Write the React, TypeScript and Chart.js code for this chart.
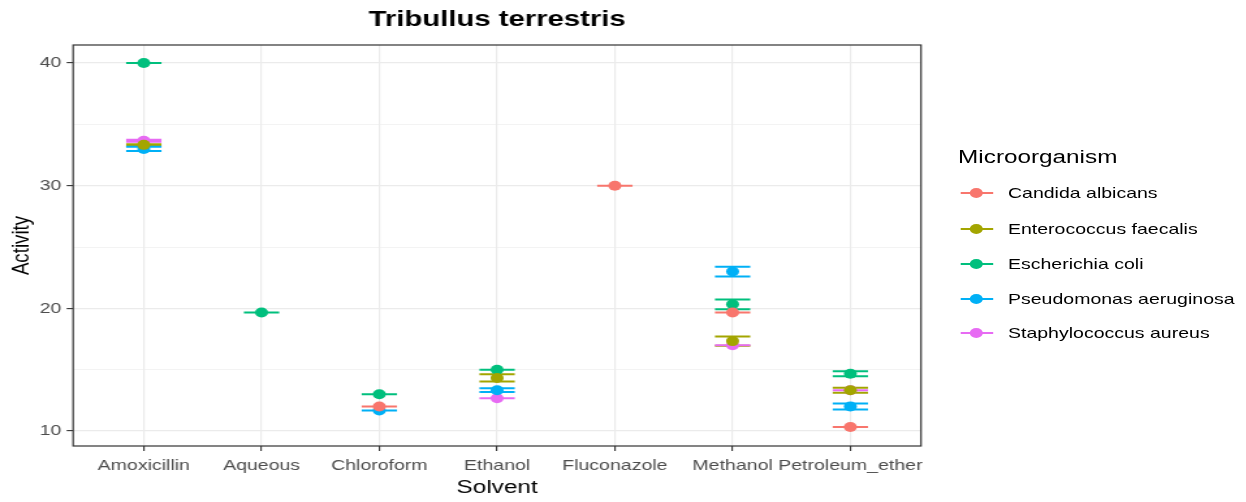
import React, { useEffect, useRef } from 'react';
import { Chart, registerables } from 'chart.js';

Chart.register(...registerables);

// The figure is laid out at a narrower logical width and widened horizontally.
const STRETCH = 1.3;
const FULL_W = 1246;
const FULL_H = 502;
const LOGICAL_W = FULL_W / STRETCH;

const FONT = '"Liberation Sans", Arial, Helvetica, sans-serif';

const categories = ['Amoxicillin', 'Aqueous', 'Chloroform', 'Ethanol', 'Fluconazole', 'Methanol', 'Petroleum_ether'];

const organisms = ['Candida albicans', 'Enterococcus faecalis', 'Escherichia coli', 'Pseudomonas aeruginosa', 'Staphylococcus aureus'];
const organismColors = ['#F8766D', '#A3A500', '#00BF7D', '#00B0F6', '#E76BF3'];

// Mean activity per solvent (null = not tested)
const candidaMean = [null, null, 12.0, null, 30.0, 19.67, 10.33];
const enterococcusMean = [33.33, null, null, 14.33, null, 17.33, 13.33];
const ecoliMean = [40.0, 19.67, 13.0, 15.0, null, 20.33, 14.67];
const pseudomonasMean = [33.0, null, 11.67, 13.33, null, 23.0, 12.0];
const staphMean = [33.67, null, null, 12.67, null, 17.0, 13.33];

// Standard deviation per solvent
const candidaSd = [null, null, 0, null, 0, 0, 0];
const enterococcusSd = [0.05, null, null, 0.3, null, 0.37, 0.2];
const ecoliSd = [0, 0, 0, 0, null, 0.4, 0.2];
const pseudomonasSd = [0.17, null, 0, 0.15, null, 0.4, 0.25];
const staphSd = [0.08, null, null, 0, null, 0, 0];

const yTicks = [10, 20, 30, 40];

const seriesMeans = [candidaMean, enterococcusMean, ecoliMean, pseudomonasMean, staphMean];
const seriesSds = [candidaSd, enterococcusSd, ecoliSd, pseudomonasSd, staphSd];

const CAP_HALF = 0.15; // half width of the error-bar caps, in category units

const errorBarPlugin = {
  id: 'errorBars',
  beforeDatasetsDraw(chart: any) {
    const { ctx, scales } = chart;
    const x = scales.x;
    const y = scales.y;
    ctx.save();
    ctx.lineWidth = 2;
    ctx.lineCap = 'butt';
    chart.data.datasets.forEach((ds: any) => {
      ctx.strokeStyle = ds.borderColor;
      ds.data.forEach((pt: any) => {
        const top = y.getPixelForValue(pt.y + pt.sd);
        const bot = y.getPixelForValue(pt.y - pt.sd);
        const left = x.getPixelForValue(pt.x - CAP_HALF);
        const right = x.getPixelForValue(pt.x + CAP_HALF);
        const cx = x.getPixelForValue(pt.x);
        ctx.beginPath();
        ctx.moveTo(left, top);
        ctx.lineTo(right, top);
        ctx.moveTo(left, bot);
        ctx.lineTo(right, bot);
        ctx.moveTo(cx, top);
        ctx.lineTo(cx, bot);
        ctx.stroke();
      });
    });
    ctx.restore();
  },
  afterDraw(chart: any) {
    const { ctx, chartArea } = chart;
    ctx.save();
    ctx.strokeStyle = '#333333';
    ctx.lineWidth = 1.2;
    ctx.strokeRect(chartArea.left, chartArea.top, chartArea.right - chartArea.left, chartArea.bottom - chartArea.top);
    ctx.restore();
  },
};

export default function App() {
  const canvasRef = useRef<HTMLCanvasElement | null>(null);

  useEffect(() => {
    if (!canvasRef.current) return;
    const datasets = organisms.map((name, si) => ({
      label: name,
      data: seriesMeans[si]
        .map((m, ci) => (m == null ? null : { x: ci, y: m, sd: seriesSds[si][ci] ?? 0 }))
        .filter((p) => p !== null),
      backgroundColor: organismColors[si],
      borderColor: organismColors[si],
      borderWidth: 0,
      pointRadius: 5,
      pointHoverRadius: 5,
      showLine: false,
    }));

    const chart = new Chart(canvasRef.current, {
      type: 'scatter',
      data: { datasets: datasets as any },
      options: {
        animation: false,
        responsive: true,
        maintainAspectRatio: false,
        layout: { padding: { left: 0, right: LOGICAL_W - 707.7, top: 0, bottom: 0 } },
        plugins: {
          legend: { display: false },
          tooltip: { enabled: false },
          title: {
            display: true,
            text: 'Tribullus terrestris',
            fullSize: false,
            color: '#000000',
            font: { family: FONT, size: 22.5, weight: 'bold' },
            padding: { top: 6, bottom: 12 },
          },
        },
        scales: {
          x: {
            type: 'linear',
            min: -0.6,
            max: categories.length - 1 + 0.6,
            afterFit: (scale: any) => {
              scale.height = FULL_H - 446;
            },
            ticks: {
              stepSize: 1,
              includeBounds: false,
              autoSkip: false,
              maxRotation: 0,
              minRotation: 0,
              padding: 6,
              color: '#4D4D4D',
              font: { family: FONT, size: 15 },
              callback: (v: any) => categories[Math.round(Number(v))] ?? '',
            },
            grid: {
              color: '#EBEBEB',
              lineWidth: 1.2,
              tickLength: 5,
              tickColor: '#333333',
              tickWidth: 1.1,
            },
            border: { display: false },
            title: {
              display: true,
              text: 'Solvent',
              color: '#000000',
              font: { family: FONT, size: 18.7 },
              padding: { top: 0, bottom: 2.8 },
            },
          },
          y: {
            type: 'linear',
            min: 8.78,
            max: 41.47,
            afterFit: (scale: any) => {
              scale.width = 56.2;
            },
            ticks: {
              stepSize: 5,
              includeBounds: false,
              autoSkip: false,
              padding: 4,
              color: '#4D4D4D',
              font: { family: FONT, size: 15 },
              callback: (v: any) => (yTicks.includes(Number(v)) ? String(v) : ''),
            },
            grid: {
              color: '#EBEBEB',
              lineWidth: (c: any) => (c.tick && yTicks.includes(c.tick.value) ? 1.2 : 0.6),
              tickLength: 5,
              tickColor: (c: any) => (c.tick && yTicks.includes(c.tick.value) ? '#333333' : 'rgba(0,0,0,0)'),
              tickWidth: 1.1,
            },
            border: { display: false },
            title: {
              display: true,
              text: 'Activity',
              color: '#000000',
              font: { family: FONT, size: 18.7 },
              padding: { top: 5.7, bottom: 5.7 },
            },
          },
        },
      },
      plugins: [errorBarPlugin],
    });
    return () => chart.destroy();
  }, []);

  const legendItemY = [193, 229, 264, 298.5, 333];

  return (
    <div
      style={{
        position: 'fixed',
        left: 0,
        top: 0,
        width: LOGICAL_W,
        height: FULL_H,
        transform: `scaleX(${STRETCH})`,
        transformOrigin: '0 0',
        background: '#ffffff',
      }}
    >
      <div style={{ position: 'absolute', left: 0, top: 0, width: LOGICAL_W, height: FULL_H }}>
        <canvas ref={canvasRef} />
      </div>
      <div
        style={{
          position: 'absolute',
          left: 737,
          top: 157 - 11,
          fontFamily: FONT,
          fontSize: 18.7,
          lineHeight: '22px',
          color: '#000000',
          whiteSpace: 'nowrap',
        }}
      >
        Microorganism
      </div>
      {organisms.map((name, i) => (
        <React.Fragment key={name}>
          <div
            style={{
              position: 'absolute',
              left: 738.5,
              top: legendItemY[i] - 1,
              width: 25.3,
              height: 2,
              background: organismColors[i],
            }}
          />
          <div
            style={{
              position: 'absolute',
              left: 751.2 - 5,
              top: legendItemY[i] - 5,
              width: 10,
              height: 10,
              borderRadius: '50%',
              background: organismColors[i],
            }}
          />
          <div
            style={{
              position: 'absolute',
              left: 775.4,
              top: legendItemY[i] - 9,
              fontFamily: FONT,
              fontSize: 15,
              lineHeight: '18px',
              color: '#000000',
              whiteSpace: 'nowrap',
            }}
          >
            {name}
          </div>
        </React.Fragment>
      ))}
    </div>
  );
}
